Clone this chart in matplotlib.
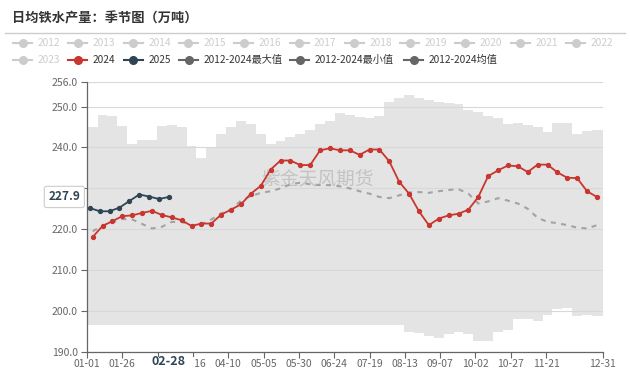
import numpy as np
import pandas as pd
import matplotlib
matplotlib.use("Agg")
import matplotlib.pyplot as plt
import matplotlib.transforms as mtransforms
from matplotlib.lines import Line2D
from matplotlib.patches import Rectangle

plt.rcParams['font.family'] = ['Noto Sans CJK SC', 'DejaVu Sans']

# ---- data (万吨, weekly) ----
week_dates = pd.date_range("2024-01-05", periods=52, freq="7D").strftime("%m-%d")
dates_2025 = pd.date_range("2025-01-03", periods=9, freq="7D").strftime("%m-%d")

v2024 = [218.1, 220.8, 222.0, 223.2, 223.4, 224.0, 224.5, 223.5, 222.9, 222.2,
         220.8, 221.4, 221.4, 223.6, 224.8, 226.1, 228.7, 230.6, 234.6, 236.8,
         236.8, 235.7, 235.7, 239.3, 239.8, 239.3, 239.3, 238.2, 239.5, 239.5,
         236.6, 231.6, 228.7, 224.4, 221.0, 222.6, 223.4, 223.8, 224.8, 227.9,
         233.0, 234.4, 235.6, 235.4, 234.0, 235.8, 235.8, 233.9, 232.6, 232.5,
         229.3, 227.9]
v2025 = [225.2, 224.4, 224.4, 225.3, 226.9, 228.5, 228.0, 227.4, 227.9]
vmax = [245.0, 248.0, 247.8, 245.2, 240.8, 241.9, 241.9, 245.3, 245.4, 244.9,
        240.4, 237.5, 239.8, 243.3, 244.9, 246.5, 245.8, 243.4, 240.9, 241.7,
        242.5, 243.2, 244.3, 245.8, 246.4, 248.5, 248.0, 247.4, 247.2, 247.6,
        251.2, 252.0, 252.9, 252.0, 251.6, 251.2, 250.8, 250.6, 249.2, 248.6,
        247.8, 247.1, 245.8, 246.0, 245.6, 245.0, 243.7, 245.9, 245.9, 243.3,
        244.0, 244.3]
vmin = [196.6] * 32 + [195.0, 194.7, 194.0, 193.5, 194.4, 195.0, 194.4, 192.7,
                       192.7, 195.0, 195.4, 198.0, 198.1, 197.6, 199.0, 200.6,
                       200.8, 198.8, 199.0, 198.9]
vmean = [219.5, 220.9, 221.7, 222.5, 222.4, 221.3, 220.2, 220.6, 221.8, 221.8,
         221.0, 221.2, 222.4, 223.9, 224.8, 227.0, 228.1, 228.9, 229.3, 230.0,
         231.0, 231.4, 231.0, 230.8, 230.8, 230.5, 230.0, 229.3, 228.7, 227.9,
         227.6, 228.3, 229.0, 229.1, 228.9, 229.3, 229.6, 229.8, 228.7, 226.3,
         226.8, 227.6, 227.0, 226.3, 225.0, 222.8, 221.8, 221.5, 221.0, 220.4,
         220.2, 221.0]

tick_labels = ["01-01", "01-26", "02-20", "03-16", "04-10", "05-05", "05-30", "06-24",
               "07-19", "08-13", "09-07", "10-02", "10-27", "11-21", "12-31"]
yticks = [190, 200, 210, 220, 230, 240, 250, 256]
legend_years = [str(y) for y in range(2012, 2024)]


def doy(mmdd):
    # position on a leap-year month-day axis
    return (pd.to_datetime([f"2024-{d}" for d in mmdd]).dayofyear - 1).to_numpy()


x_week = doy(week_dates)
x_2025 = doy(dates_2025)
edges = np.concatenate([[0], (x_week[:-1] + x_week[1:]) / 2, [365]])

W, H = 630, 384
fig = plt.figure(figsize=(W / 100, H / 100), dpi=100)
ax = fig.add_axes([87 / W, 1 - 352 / H, 515.6 / W, 270 / H])

ax.fill_between(edges, np.append(vmin, vmin[-1]), np.append(vmax, vmax[-1]),
                step="post", color="#e4e4e4", lw=0, zorder=1)
ax.plot(x_week, vmean, color="#a3a3a3", lw=1.5, ls=(0, (2.4, 2.6)), zorder=3)
ax.plot(x_week, v2024, color="#c9352f", lw=1.3, marker="o", ms=2.8, zorder=4)
ax.plot(x_2025, v2025, color="#2f4554", lw=1.3, marker="o", ms=2.8, zorder=5)

# labels hidden behind the axis-pointer boxes are left blank, like the original
ax.set_xlim(0, 365)
ax.set_ylim(190, 256)
ax.set_yticks(yticks)
ax.set_yticklabels(["" if abs(v - v2025[-1]) < 3 else f"{v:.1f}" for v in yticks])
ax.set_xticks(doy(tick_labels))
ax.set_xticklabels(["" if lab == "02-20" else lab for lab in tick_labels])
ax.tick_params(axis="both", labelsize=7.5, labelcolor="#666666", color="#666666",
               length=4, width=0.8)
ax.tick_params(axis="x", pad=1.0)
ax.tick_params(axis="y", pad=2.5)
ax.set_axisbelow("line")
ax.yaxis.grid(True, color="#d8d8d8", lw=0.8)
for s in ("top", "right"):
    ax.spines[s].set_visible(False)
for s in ("left", "bottom"):
    ax.spines[s].set_color("#666666")
    ax.spines[s].set_linewidth(0.9)

ax.text(0.446, 0.637, "紫金天风期货", transform=ax.transAxes, ha="center", va="center",
        fontsize=13.5, color="#b5b5b5", alpha=0.7, zorder=2)

# axis pointer labels (latest 2025 point)
ytr = mtransforms.blended_transform_factory(ax.transAxes, ax.transData)
ax.text(-0.013, v2025[-1], f"{v2025[-1]:.1f}", transform=ytr, ha="right", va="center",
        fontsize=8.5, fontweight="bold", color="#2f4554", zorder=10, clip_on=False,
        bbox=dict(boxstyle="round,pad=0.35,rounding_size=0.2", fc="white", ec="#cccccc", lw=0.8))
xtr = mtransforms.blended_transform_factory(ax.transData, ax.transAxes)
ax.add_patch(Rectangle((x_2025[-1] - 17.5, -0.07), 35, 0.052, transform=xtr,
                       fc="white", ec="none", zorder=9, clip_on=False))
ax.text(x_2025[-1], -0.037, dates_2025[-1], transform=xtr, ha="center", va="center",
        fontsize=9, fontweight="bold", color="#2f4554", zorder=10, clip_on=False)

# title
fig.text(12 / W, 1 - 18 / H, "日均铁水产量：季节图（万吨）", fontsize=9.5, fontweight="bold",
         color="#333333", va="center")
fig.add_artist(Line2D([5 / W, 625 / W], [1 - 33 / H] * 2, color="#cccccc", lw=1,
                      transform=fig.transFigure))


def legend_item(x0, y, label, color, tcolor):
    yy = 1 - y / H
    fig.add_artist(Line2D([x0 / W, (x0 + 19) / W], [yy, yy], color=color, lw=1.5,
                          transform=fig.transFigure))
    fig.add_artist(Line2D([(x0 + 9.5) / W], [yy], color=color, marker="o", ms=5.5,
                          transform=fig.transFigure))
    fig.text((x0 + 24.5) / W, yy, label, fontsize=7.3, color=tcolor, va="center")


for k, lab in enumerate(legend_years[:11]):
    legend_item(13 + 55.3 * k, 43, lab, "#cccccc", "#cccccc")
row2 = [(13, legend_years[11], "#cccccc", "#cccccc"),
        (68.3, "2024", "#c9352f", "#333333"),
        (123.6, "2025", "#2f4554", "#333333"),
        (179, "2012-2024最大值", "#666666", "#333333"),
        (290, "2012-2024最小值", "#666666", "#333333"),
        (404, "2012-2024均值", "#666666", "#333333")]
for x0, lab, c, tc in row2:
    legend_item(x0, 60, lab, c, tc)

fig.savefig("out.png", dpi=100)
